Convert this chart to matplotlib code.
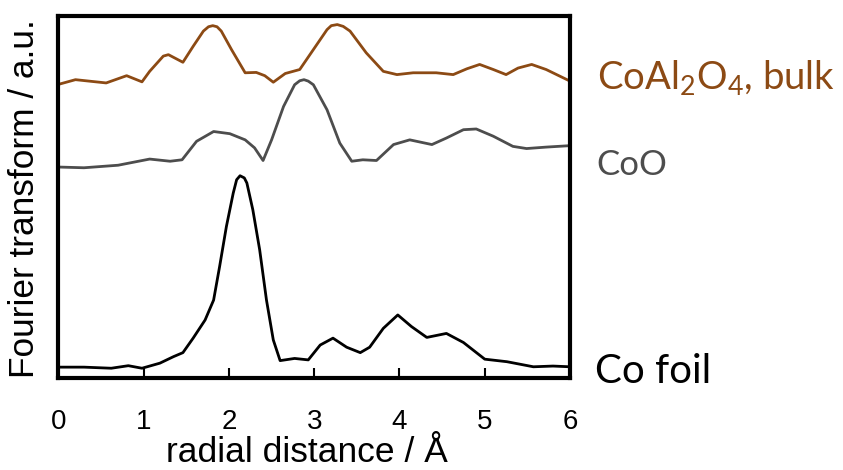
import numpy as np
import matplotlib
matplotlib.use('Agg')
import matplotlib.pyplot as plt

# Datos (distancia radial en Å, intensidad en u.a. desplazada)
x_coal = [0.00, 0.20, 0.56, 0.80, 0.98, 1.07, 1.23, 1.29, 1.46, 1.58, 1.70, 1.76,
          1.81, 1.86, 1.91, 2.03, 2.19, 2.32, 2.42, 2.52, 2.66, 2.83, 2.99, 3.15,
          3.20, 3.27, 3.34, 3.42, 3.61, 3.81, 3.97, 4.16, 4.43, 4.63, 4.79, 4.94,
          5.10, 5.25, 5.39, 5.55, 5.72, 6.00]
y_coal = [8.10, 8.23, 8.14, 8.34, 8.17, 8.46, 8.88, 8.92, 8.71, 9.15, 9.57, 9.69,
          9.72, 9.69, 9.57, 9.06, 8.42, 8.43, 8.34, 8.16, 8.40, 8.51, 9.06, 9.61,
          9.72, 9.75, 9.70, 9.57, 8.97, 8.46, 8.37, 8.42, 8.42, 8.37, 8.53, 8.65,
          8.51, 8.37, 8.55, 8.65, 8.51, 8.19]

x_coo = [0.00, 0.30, 0.70, 1.07, 1.31, 1.45, 1.62, 1.82, 2.01, 2.19, 2.30, 2.40,
         2.50, 2.64, 2.77, 2.83, 2.88, 2.93, 2.99, 3.15, 3.30, 3.44, 3.57, 3.73,
         3.93, 4.12, 4.38, 4.55, 4.75, 4.90, 5.10, 5.33, 5.49, 5.72, 6.00]
y_coo = [5.82, 5.80, 5.87, 6.04, 5.98, 6.02, 6.53, 6.80, 6.74, 6.57, 6.35, 6.00,
         6.57, 7.49, 8.09, 8.20, 8.23, 8.19, 8.09, 7.40, 6.48, 5.98, 6.02, 6.00,
         6.44, 6.57, 6.44, 6.62, 6.85, 6.87, 6.67, 6.39, 6.33, 6.37, 6.41]

x_co = [0.00, 0.30, 0.62, 0.82, 0.98, 1.19, 1.35, 1.46, 1.58, 1.72, 1.82, 1.89,
        1.97, 2.05, 2.09, 2.13, 2.18, 2.21, 2.28, 2.36, 2.44, 2.52, 2.60, 2.77,
        2.93, 3.07, 3.22, 3.38, 3.54, 3.65, 3.81, 3.98, 4.14, 4.32, 4.55, 4.75,
        5.00, 5.26, 5.57, 5.80, 6.00]
y_co = [0.30, 0.30, 0.27, 0.34, 0.27, 0.41, 0.59, 0.70, 1.10, 1.60, 2.15, 3.07,
        4.18, 5.10, 5.47, 5.58, 5.52, 5.38, 4.64, 3.54, 2.15, 1.05, 0.48, 0.54,
        0.50, 0.91, 1.10, 0.85, 0.70, 0.85, 1.37, 1.74, 1.42, 1.12, 1.23, 0.98,
        0.52, 0.45, 0.31, 0.33, 0.31]

etiquetas = ['CoAl$_\\mathregular{2}$O$_\\mathregular{4}$, bulk', 'CoO', 'Co foil']
colores = ['#8C4A14', '#4D4D4D', '#000000']
xticks = [0, 1, 2, 3, 4, 5, 6]

plt.rcParams['font.family'] = ['Liberation Sans', 'DejaVu Sans']

fig = plt.figure(figsize=(8.43, 4.70), dpi=100)
ax = fig.add_axes([0.0693, 0.1957, 0.6069, 0.7713])

for xs, ys, c in zip([x_coal, x_coo, x_co], [y_coal, y_coo, y_co], colores):
    ax.plot(xs, ys, color=c, lw=2.0, solid_joinstyle='round', solid_capstyle='round')

ax.set_xlim(0, 6)
ax.set_ylim(0, 10)
ax.set_xticks(xticks)
ax.set_yticks([])
ax.tick_params(axis='x', direction='in', length=7, width=1.5, labelsize=20, pad=22)
for s in ax.spines.values():
    s.set_linewidth(3)

# Títulos de los ejes
fig.text(0.3636, 0.002, 'radial distance / Å', fontsize=25.5, ha='center', va='bottom')
fig.text(0.0285, 0.5766, 'Fourier transform / a.u.', fontsize=25.4, rotation=90,
         ha='center', va='center')

# Etiquetas de cada curva a la derecha
xpos = [0.7078, 0.7078, 0.706]
ypos = [0.810, 0.6277, 0.1845]
tam = [27.5, 25, 29]
for lab, c, xx, yy, t in zip(etiquetas, colores, xpos, ypos, tam):
    fig.text(xx, yy, lab, color=c, fontsize=t, family='Lato', va='baseline')

fig.savefig('out.png', dpi=100)
